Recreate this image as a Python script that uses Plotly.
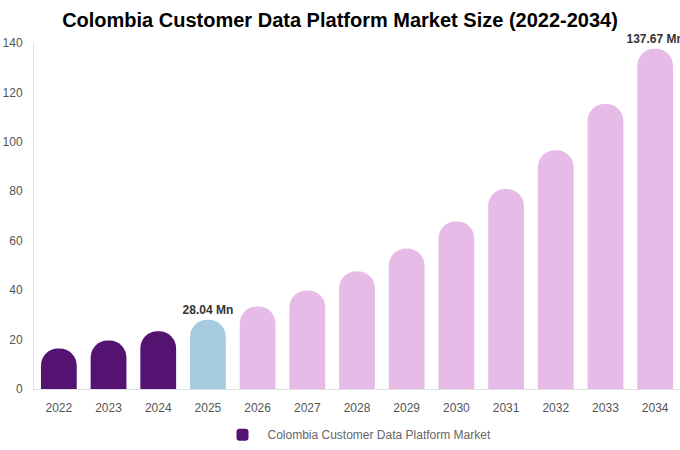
import plotly.graph_objs as go

years = [str(y) for y in range(2022, 2035)]
values = [16.4, 19.6, 23.4, 28.04, 33.4, 39.9, 47.6, 56.8, 67.8, 80.9, 96.6, 115.3, 137.67]
labels = ["", "", "", "28.04 Mn", "", "", "", "", "", "", "", "", "137.67 Mn"]
colors = ["#541271"] * 3 + ["#a5cbdf"] + ["#e6bbe8"] * 9

fig = go.Figure()
fig.add_trace(go.Bar(
    x=years, y=values, name='Colombia Customer Data Platform Market',
    marker=dict(color=colors, cornerradius=18, line=dict(width=0)),
    text=labels, textposition='outside', cliponaxis=False, constraintext='none',
    textfont=dict(family='Liberation Sans, Arial', size=12, color='#333333', weight='bold'),
    showlegend=True, hoverinfo='x+y'))

fig.update_layout(
    title=dict(text='<b>Colombia Customer Data Platform Market Size (2022-2034)</b>',
               x=0.5, xanchor='center', y=0.955, yanchor='middle',
               font=dict(family='Liberation Sans, Arial', size=20, color='#000000')),
    width=680, height=450,
    margin=dict(l=34, r=0, t=43, b=61),
    plot_bgcolor='white', paper_bgcolor='white',
    bargap=0.28,
    font=dict(family='Liberation Sans, Arial', size=12, color='#666666'),
    xaxis=dict(showgrid=False, showline=True, linecolor='#e0e0e0', ticks='', automargin=False,
               ticklabelstandoff=8, tickfont=dict(size=12, color='#555555')),
    yaxis=dict(range=[0, 140], dtick=20, showgrid=False, showline=True, linecolor='#e0e0e0',
               zeroline=False, ticks='', automargin=False, ticklabelstandoff=8,
               tickfont=dict(size=12, color='#555555')),
    legend=dict(orientation='h', x=0.5, xanchor='center', y=-0.09, yanchor='top',
                itemwidth=40, font=dict(size=12, color='#666666')),
)

# the page has a default 8px body margin; drop it so the figure sits at the window corner
fig.write_html("out.html", config={'displayModeBar': False},
               post_script="document.body.style.margin='0';")
